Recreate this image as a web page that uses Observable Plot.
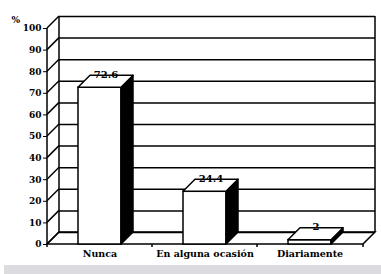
<!DOCTYPE html>
<html>
<head>
<meta charset="utf-8">
<script src="https://cdn.jsdelivr.net/npm/d3@7"></script>
<script src="https://cdn.jsdelivr.net/npm/@observablehq/plot@0.6"></script>
<style>
  body { margin: 0; background: #fff; }
  #band { margin-left: 4px; height: 9px; background: #dcdce0; }
</style>
</head>
<body>
<div id="chart"></div>
<div id="band"></div>
<script>
const categories = ["Nunca", "En alguna ocasión", "Diariamente"];
const values = [72.6, 24.4, 2];
const valueLabels = ["72.6", "24.4", "2"];
const yTicks = [0, 10, 20, 30, 40, 50, 60, 70, 80, 90, 100];
const unitLabel = "%";

const data = categories.map((c, i) => ({cat: c, v: values[i], label: valueLabels[i]}));
const depth = 12;
const lw = 1.5;
const font = "'DejaVu Serif', serif";

function bandwidthOf(x) {
  return typeof x.bandwidth === "function" ? x.bandwidth() : x.bandwidth;
}

function frame3d(index, scales, vals, dim) {
  const {x, y} = scales;
  const g = d3.create("svg:g").attr("stroke", "#000").attr("stroke-width", lw).attr("fill", "none");
  const x0 = dim.marginLeft, x1 = dim.width - dim.marginRight;
  const yb = y(0), yt = y(d3.max(yTicks));
  g.append("line").attr("x1", x0 + depth).attr("x2", x0 + depth).attr("y1", yt - depth).attr("y2", yb - depth);
  g.append("line").attr("x1", x1 + depth).attr("x2", x1 + depth).attr("y1", yt - depth).attr("y2", yb - depth);
  g.append("path").attr("d", `M${x0},${yb}L${x1},${yb}L${x1 + depth},${yb - depth}L${x0 + depth},${yb - depth}Z`);
  for (const t of yTicks) {
    g.append("line").attr("x1", x0).attr("y1", y(t)).attr("x2", x0 + depth).attr("y2", y(t) - depth);
  }
  g.append("line").attr("x1", x0).attr("x2", x0).attr("y1", yt).attr("y2", yb);
  const bw = bandwidthOf(x);
  const centers = categories.map(c => x(c) + bw / 2);
  const bounds = [x0];
  for (let i = 1; i < centers.length; i++) bounds.push((centers[i - 1] + centers[i]) / 2);
  bounds.push(x1);
  for (const b of bounds) g.append("line").attr("x1", b).attr("x2", b).attr("y1", yb).attr("y2", yb + 3);
  return g.node();
}

function bars3d(index, scales, vals, dim) {
  const {x, y} = scales;
  const g = d3.create("svg:g").attr("stroke", "#000").attr("stroke-width", lw).attr("stroke-linejoin", "round");
  const yb = y(0);
  const bw = bandwidthOf(x);
  for (const d of data) {
    const bx = x(d.cat), yv = y(d.v);
    g.append("path").attr("fill", "#000")
      .attr("d", `M${bx + bw},${yv}L${bx + bw + depth},${yv - depth}L${bx + bw + depth},${yb - depth}L${bx + bw},${yb}Z`);
    g.append("path").attr("fill", "#fff")
      .attr("d", `M${bx},${yv}L${bx + depth},${yv - depth}L${bx + bw + depth},${yv - depth}L${bx + bw},${yv}Z`);
  }
  return g.node();
}

const chart = Plot.plot({
  width: 381,
  height: 265,
  marginLeft: 47,
  marginRight: 18,
  marginTop: 28,
  marginBottom: 21,
  style: {fontFamily: font, background: "#fff", color: "#000"},
  x: {domain: categories, paddingInner: 0.59, paddingOuter: 0.295},
  y: {domain: [0, 100]},
  marks: [
    Plot.ruleY(yTicks, {dx: depth, dy: -depth, stroke: "#000", strokeWidth: lw}),
    frame3d,
    Plot.barY(data, {x: "cat", y: "v", fill: "#fff", stroke: "#000", strokeWidth: lw}),
    bars3d,
    Plot.text(data, {x: "cat", y: "v", text: "label", dx: depth / 2, dy: -depth - 1, fontSize: 10, fontWeight: "bold", fill: "#000"}),
    Plot.axisY({ticks: yTicks, tickSize: 4, tickPadding: 2, fontSize: 9, fontWeight: "bold", label: null}),
    Plot.axisX({tickSize: 0, tickPadding: 6, fontSize: 9.5, fontWeight: "bold", label: null}),
    Plot.text([unitLabel], {frameAnchor: "top-left", dx: -36, dy: -12, fontSize: 9, fontWeight: "bold"})
  ]
});
document.getElementById("chart").appendChild(chart);
</script>
</body>
</html>
